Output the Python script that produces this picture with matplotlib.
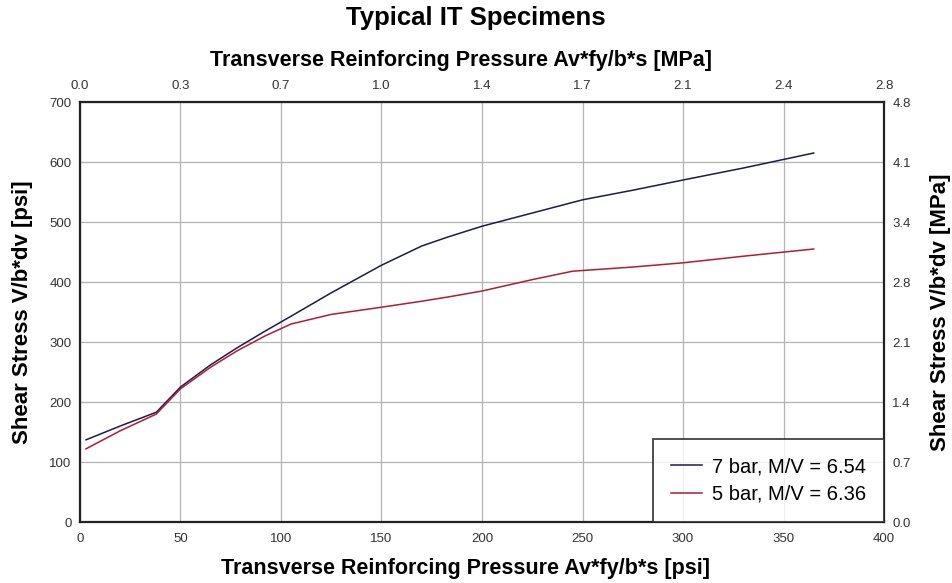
import matplotlib
matplotlib.use("Agg")
import matplotlib.pyplot as plt

plt.rcParams["font.family"] = ["Liberation Sans", "DejaVu Sans"]

# Data (psi)
bar7_x = [3, 20, 38, 50, 65, 78, 92, 105, 125, 150, 170, 183, 200, 225, 250, 275, 300, 330, 365]
bar7_y = [137, 160, 183, 225, 262, 290, 318, 343, 382, 428, 460, 475, 493, 515, 537, 553, 570, 590, 615]
bar5_x = [3, 20, 38, 50, 65, 78, 92, 105, 125, 150, 170, 183, 200, 225, 245, 275, 300, 330, 365]
bar5_y = [122, 152, 180, 222, 258, 285, 310, 330, 346, 358, 368, 375, 385, 404, 418, 425, 432, 443, 455]

x_ticks = [0, 50, 100, 150, 200, 250, 300, 350, 400]
y_ticks = [0, 100, 200, 300, 400, 500, 600, 700]
x_mpa_labels = ["0.0", "0.3", "0.7", "1.0", "1.4", "1.7", "2.1", "2.4", "2.8"]
y_mpa_labels = ["0.0", "0.7", "1.4", "2.1", "2.8", "3.4", "4.1", "4.8"]

fig = plt.figure(figsize=(9.52, 5.83), dpi=100)
ax = fig.add_axes([0.084, 0.1046, 0.8446, 0.7204])

ax.plot(bar7_x, bar7_y, color="#1c1c48", lw=1.1, label="7 bar, M/V = 6.54")
ax.plot(bar5_x, bar5_y, color="#b01c38", lw=1.1, label="5 bar, M/V = 6.36")

ax.set_xlim(0, 400)
ax.set_ylim(0, 700)
ax.set_xticks(x_ticks)
ax.set_yticks(y_ticks)
ax.grid(True, color="#b4b4b4", lw=0.9)
ax.set_axisbelow(True)
ax.tick_params(axis="x", length=0, labelsize=9.5, labelcolor="#333333", pad=8)
ax.tick_params(axis="y", length=0, labelsize=9.5, labelcolor="#333333", pad=6)

for s in ax.spines.values():
    s.set_linewidth(1.6)
    s.set_color("#222222")

ax.set_xlabel("Transverse Reinforcing Pressure Av*fy/b*s [psi]", fontsize=15.5, fontweight="bold")
ax.xaxis.set_label_coords(0.479, -0.085)
ax.set_ylabel("Shear Stress V/b*dv [psi]", fontsize=16, fontweight="bold", labelpad=12)

# Top axis in MPa
axt = ax.twiny()
axt.set_xlim(ax.get_xlim())
axt.set_xticks(x_ticks)
axt.set_xticklabels(x_mpa_labels)
axt.tick_params(length=0, labelsize=9.5, labelcolor="#333333", pad=7)
axt.set_xlabel("Transverse Reinforcing Pressure Av*fy/b*s [MPa]", fontsize=15.5, fontweight="bold")
axt.xaxis.set_label_coords(0.474, 1.086)

# Right axis in MPa
axr = ax.twinx()
axr.set_ylim(ax.get_ylim())
axr.set_yticks(y_ticks)
axr.set_yticklabels(y_mpa_labels)
axr.tick_params(length=0, labelsize=9.5, labelcolor="#333333", pad=6)
axr.set_ylabel("Shear Stress V/b*dv [MPa]", fontsize=16, fontweight="bold", labelpad=14)

for a in (axt, axr):
    for s in a.spines.values():
        s.set_visible(False)

leg = ax.legend(loc="lower right", fontsize=14.5, frameon=True, fancybox=False,
                borderaxespad=0, handlelength=1.5, handletextpad=0.5,
                borderpad=0.9, labelspacing=0.42)
leg.get_frame().set_edgecolor("#222222")
leg.get_frame().set_linewidth(1.4)
leg.set_zorder(5)

fig.suptitle("Typical IT Specimens", fontsize=18.5, fontweight="bold", y=0.99)

fig.savefig("out.png", dpi=100)
